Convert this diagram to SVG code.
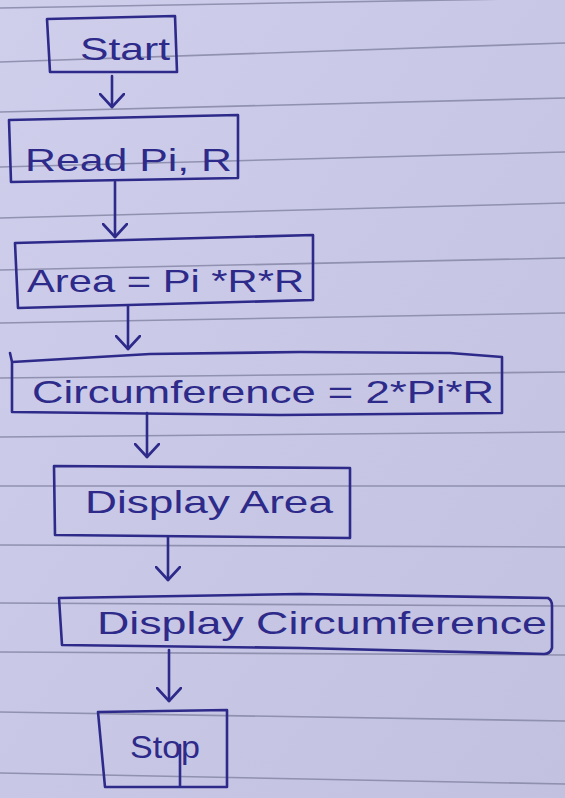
<svg xmlns="http://www.w3.org/2000/svg" width="565" height="798" viewBox="0 0 565 798">
<defs>
<linearGradient id="paper" x1="0" y1="0" x2="1" y2="1">
<stop offset="0" stop-color="#cfcfec"/>
<stop offset="0.5" stop-color="#c8c7e6"/>
<stop offset="1" stop-color="#c2c1df"/>
</linearGradient>
<marker id="head" viewBox="0 0 16 26" refX="14" refY="13" markerWidth="16" markerHeight="26" markerUnits="userSpaceOnUse" orient="auto">
<path d="M1,1 L14,13 L1,25" fill="none" stroke="#2d2a8a" stroke-width="2.6" stroke-linecap="round" stroke-linejoin="round"/>
</marker>
<style>
.rule{stroke:#8686a6;stroke-width:1.6;fill:none;opacity:0.85}
.box{fill:none;stroke:#2d2a8a;stroke-width:2.6;stroke-linejoin:round;stroke-linecap:round}
.lbl{font-family:"Liberation Sans","DejaVu Sans",sans-serif;fill:#2d2a8a;font-size:32px}
.conn{stroke:#2d2a8a;stroke-width:2.6;fill:none;stroke-linecap:round}
</style>
</defs>
<rect width="565" height="798" fill="url(#paper)"/>
<g id="paper-lines">
<path class="rule" d="M0,8 L565,-2"/>
<path class="rule" d="M0,62 L565,43"/>
<path class="rule" d="M0,112 L565,98"/>
<path class="rule" d="M0,167 L565,152"/>
<path class="rule" d="M0,218 L565,203"/>
<path class="rule" d="M0,270 L565,258"/>
<path class="rule" d="M0,323 L565,313"/>
<path class="rule" d="M0,378 L565,372"/>
<path class="rule" d="M0,437 L565,432"/>
<path class="rule" d="M0,486 L565,486"/>
<path class="rule" d="M0,545 L565,547"/>
<path class="rule" d="M0,603 L565,606"/>
<path class="rule" d="M0,652 L565,655"/>
<path class="rule" d="M0,712 L565,721"/>
<path class="rule" d="M0,773 L565,784"/>
</g>
<g id="connectors">
<path class="conn" d="M112,76 L112,107" marker-end="url(#head)"/>
<path class="conn" d="M115,182 L115,237" marker-end="url(#head)"/>
<path class="conn" d="M128,306 L128,349" marker-end="url(#head)"/>
<path class="conn" d="M147,413 L147,457" marker-end="url(#head)"/>
<path class="conn" d="M168,537 L168,580" marker-end="url(#head)"/>
<path class="conn" d="M169,650 L169,701" marker-end="url(#head)"/>
</g>
<g id="start">
<path class="box" d="M47,19 L175,16 L177,72 L50,72 Z"/>
<text class="lbl" x="80" y="60" textLength="90" lengthAdjust="spacingAndGlyphs">Start</text>
</g>
<g id="read">
<path class="box" d="M9,120 L238,115 L238,178 L11,182 Z"/>
<text class="lbl" x="25" y="171" textLength="207" lengthAdjust="spacingAndGlyphs">Read Pi, R</text>
</g>
<g id="area">
<path class="box" d="M15,243 L313,235 L313,300 L18,308 Z"/>
<text class="lbl" x="27" y="292" textLength="277" lengthAdjust="spacingAndGlyphs">Area = Pi *R*R</text>
</g>
<g id="circumference">
<path class="box" d="M10,353 L12,362 M12,362 L150,354 L300,352 L450,353 L502,357 L502,413 L280,415 L12,412 Z"/>
<text class="lbl" x="32" y="403" textLength="462" lengthAdjust="spacingAndGlyphs">Circumference = 2*Pi*R</text>
</g>
<g id="display-area">
<path class="box" d="M54,466 L350,468 L350,538 L55,535 Z"/>
<text class="lbl" x="85" y="513" font-size="34" textLength="248" lengthAdjust="spacingAndGlyphs">Display Area</text>
</g>
<g id="display-circumference">
<path class="box" d="M59,598 L300,594 L548,598 Q552,600 552,606 L552,648 Q550,654 544,654 L300,648 L62,645 Z"/>
<text class="lbl" x="97" y="634" font-size="30" textLength="450" lengthAdjust="spacingAndGlyphs">Display Circumference</text>
</g>
<g id="stop">
<path class="box" d="M98,712 L227,710 L227,787 L105,787 Z M180,745 L180,787"/>
<text class="lbl" x="130" y="758" font-size="30" textLength="70" lengthAdjust="spacingAndGlyphs">Stop</text>
</g>
</svg>
